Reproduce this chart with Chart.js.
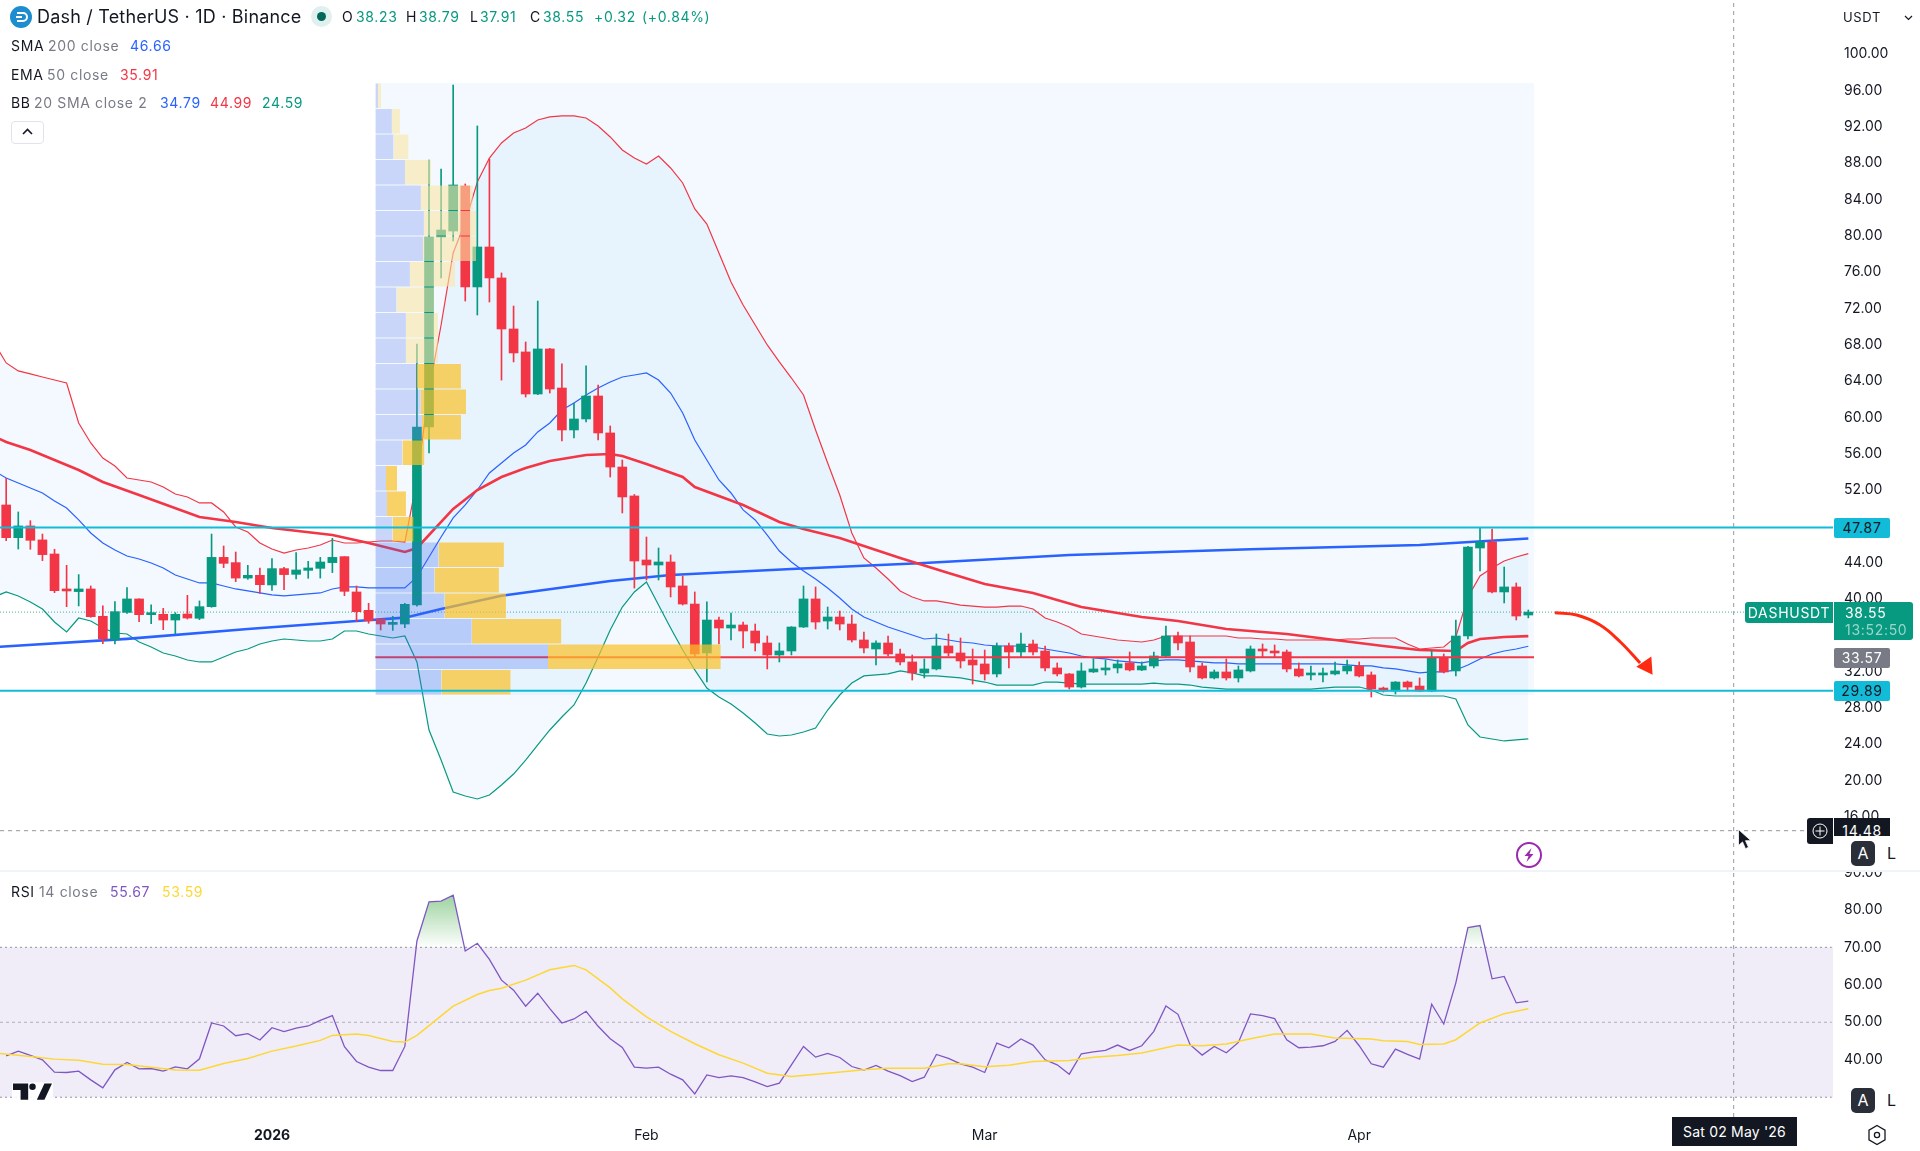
<!DOCTYPE html>
<html><head><meta charset="utf-8">
<style>
html,body{margin:0;padding:0;background:#fff;overflow:hidden}
#wrap{position:relative;width:1920px;height:1151px;font-family:Inter,"Noto Sans",sans-serif;color:#131722}
canvas{position:absolute;left:0;top:0}
.t{position:absolute;white-space:nowrap;line-height:20px;font-size:14px;letter-spacing:.65px}
.g{color:#787b86}.up{color:#089981}.bl{color:#2962ff}.rd{color:#f23645}
.box{position:absolute;text-align:center;font-size:14px;line-height:20px;letter-spacing:.7px;box-sizing:border-box}
.btn{position:absolute;box-sizing:border-box;border-radius:5px;text-align:center;font-size:16px;line-height:25px}
svg{position:absolute;overflow:visible}
</style></head><body>
<div id="wrap">
<canvas id="c" width="1920" height="1151"></canvas>

<svg style="left:10px;top:6px" width="22" height="22" viewBox="0 0 22 22"><circle cx="11" cy="11" r="11" fill="#1c8ed0"/><path d="M7 7h6a4 4 0 0 1 0 8H7M6 11h6" fill="none" stroke="#fff" stroke-width="2"/></svg>
<div class="t" style="left:37px;top:7px;font-size:18px;letter-spacing:.2px">Dash / TetherUS · 1D · Binance</div>
<svg style="left:311px;top:6px" width="21" height="21"><circle cx="10.5" cy="10.5" r="10.5" fill="#dff0ee"/><circle cx="10.5" cy="10.5" r="4.5" fill="#00695c"/></svg>
<div class="t" style="left:342px;top:7px">O</div><div class="t up" style="left:356px;top:7px">38.23</div>
<div class="t" style="left:406px;top:7px">H</div><div class="t up" style="left:419px;top:7px">38.79</div>
<div class="t" style="left:470px;top:7px">L</div><div class="t up" style="left:480px;top:7px">37.91</div>
<div class="t" style="left:530px;top:7px">C</div><div class="t up" style="left:543px;top:7px">38.55</div>
<div class="t up" style="left:594px;top:7px">+0.32</div><div class="t up" style="left:642px;top:7px">(+0.84%)</div>

<div class="t" style="left:11px;top:36px">SMA</div><div class="t g" style="left:48px;top:36px">200 close</div><div class="t bl" style="left:130px;top:36px">46.66</div>
<div class="t" style="left:11px;top:65px">EMA</div><div class="t g" style="left:47px;top:65px">50 close</div><div class="t rd" style="left:120px;top:65px">35.91</div>
<div class="t" style="left:11px;top:93px">BB</div><div class="t g" style="left:34px;top:93px">20 SMA close 2</div><div class="t bl" style="left:160px;top:93px">34.79</div><div class="t rd" style="left:210px;top:93px">44.99</div><div class="t up" style="left:262px;top:93px">24.59</div>
<div style="position:absolute;left:11px;top:121px;width:33px;height:23px;border:1px solid #e0e3eb;border-radius:4px;box-sizing:border-box"></div>
<svg style="left:22px;top:128px" width="11" height="8"><path d="M1 6l4.5-4.5L10 6" fill="none" stroke="#131722" stroke-width="1.6"/></svg>

<div class="t" style="left:1843px;top:7px;font-size:13px">USDT</div>
<svg style="left:1904px;top:15px" width="9" height="6"><path d="M1 1l3.5 3.5L8 1" fill="none" stroke="#131722" stroke-width="1.2"/></svg>

<div class="box" style="left:1834px;top:518px;width:56px;height:20px;background:#12bcd9;border-radius:2px">47.87</div>
<div class="box" style="left:1834px;top:681px;width:56px;height:20px;background:#12bcd9;border-radius:2px">29.89</div>
<div class="box" style="left:1834px;top:648px;width:56px;height:20px;background:#787b86;color:#fff;border-radius:2px">33.57</div>
<div class="box" style="left:1745px;top:602px;width:88px;height:21px;background:#089981;color:#fff;border-radius:3px 0 0 3px;line-height:21px">DASHUSDT</div>
<div class="box" style="left:1834px;top:602px;width:79px;height:38px;background:#089981;color:#fff;border-radius:0 3px 3px 0;text-align:left;padding-left:11px;line-height:17px;padding-top:2px">38.55<br><span style="color:#9bd6cb">13:52:50</span></div>

<div style="position:absolute;left:1834px;top:818px;width:56px;height:18px;background:#131722"></div>
<div class="box" style="left:1834px;top:821px;width:56px;height:15px;color:#fff;line-height:20px;overflow:hidden">14.48</div>
<div style="position:absolute;left:1807px;top:818px;width:26px;height:26px;background:#131722;border-radius:3px 0 0 3px"></div>
<svg style="left:1812px;top:823px" width="16" height="16"><circle cx="8" cy="8" r="7" fill="none" stroke="#fff" stroke-width="1"/><path d="M8 3.500v9M3.500 8h9" stroke="#fff" stroke-width="1"/></svg>

<div class="btn" style="left:1851px;top:841px;width:24px;height:25px;background:#2a2e39;color:#fff">A</div>
<div class="btn" style="left:1880px;top:841px;width:23px;height:25px;background:#fff;color:#131722">L</div>
<div style="position:absolute;left:1833px;top:866px;width:87px;height:4px;background:#fff"></div>
<div style="position:absolute;left:0;top:870px;width:1920px;height:2px;background:#f0f3fa"></div>
<div class="btn" style="left:1851px;top:1088px;width:24px;height:25px;background:#2a2e39;color:#fff">A</div>
<div class="btn" style="left:1880px;top:1088px;width:23px;height:25px;background:#fff;color:#131722">L</div>

<svg style="left:1516px;top:842px" width="26" height="26"><circle cx="13" cy="13" r="12" fill="#fff" stroke="#9c27b0" stroke-width="2"/><path d="M15.500 6L8.500 14h4l-2 6 7-8h-4z" fill="#9c27b0"/></svg>
<svg style="left:1738px;top:829px" width="14" height="22"><path d="M0.500 0.500v16l4-3.600 3 6.800 3-1.400-3-6.600h5.500z" fill="#131722" stroke="#fff" stroke-width=".8"/></svg>

<div class="t" style="left:11px;top:882px">RSI</div><div class="t g" style="left:39px;top:882px">14 close</div><div class="t" style="left:110px;top:882px;color:#7e57c2">55.67</div><div class="t" style="left:162px;top:882px;color:#fdd835">53.59</div>

<svg style="left:13px;top:1082px" width="39" height="19" viewBox="0 6 36 15"><rect x="-1" y="5" width="38" height="17" fill="#fff" opacity=".9"/><path d="M14 6H0v6h7v9h7V6zm15 15h-7l7-15h7l-7 15zm-11-9a3 3 0 1 1 0-6 3 3 0 0 1 0 6z" fill="#131722"/></svg>

<div class="box" style="left:1672px;top:1117px;width:125px;height:29px;background:#131722;color:#fff;line-height:29px;letter-spacing:.2px">Sat 02 May '26</div>
<svg style="left:1867px;top:1124px" width="20" height="22"><path d="M10 1.500l8 4.600v9.800l-8 4.600-8-4.600V6.100z" fill="none" stroke="#131722" stroke-width="1.3"/><circle cx="10" cy="11" r="2.600" fill="none" stroke="#131722" stroke-width="1.3"/></svg>
</div>

<script src="https://cdn.jsdelivr.net/npm/chart.js@4/dist/chart.umd.min.js"></script>
<script>
// Candles: index 0 = 10 Dec 2025, one per day
const open=[50.35,46.75,48.04,46.5,44.95,40.95,40.81,41.1,38.09,35.55,38.52,40,38.27,38.31,37.68,38.34,37.87,39.15,44.58,44,42.3,42.6,41.54,43.34,42.71,43.15,43.37,44,44.66,40.77,38.75,37.79,37.2,37.24,39.33,58.94,79.86,80.52,85.48,74.36,78.76,75.35,69.73,67.2,62.57,67.53,63.23,58.61,59.82,62.35,58.28,54.53,51.34,44.29,43.74,44.07,41.43,39.44,34.05,37.68,36.8,37.13,36.47,35.15,33.83,34.27,36.91,40,37.57,38.01,37.24,35.48,34.49,35.15,33.94,33.06,31.85,32.29,34.82,34.05,33.28,32.84,31.74,34.82,34.16,35.04,34.27,32.4,31.74,30.3,31.96,32.18,32.4,32.95,32.18,32.62,33.72,35.92,35.26,32.62,31.3,31.96,31.3,32.07,34.49,34.27,34.16,32.29,31.63,31.63,31.74,32.07,32.62,31.63,30.19,29.86,30.85,30.41,29.86,33.5,32.07,35.92,45.61,46.27,40.77,41.32,38.23];
const high=[53.28,49.58,48.62,47.15,45.47,43.7,42.68,41.43,39.23,39.7,41.24,40,39.34,38.97,38.49,40.4,39.78,47.15,45.83,45.17,43.7,43.4,44.44,43.48,45.1,44.14,44.58,46.68,44.66,41.43,39.52,37.79,38.09,39.52,68.08,88.34,87.35,96.6,85.7,92.09,88.45,75.9,72.26,68.3,72.81,67.6,65.88,61.58,65.66,63.56,59.05,55.3,51.5,46.82,45.61,44.84,42.53,40.77,39.67,38.01,38.45,37.46,37.24,35.92,35.15,36.95,41.43,41.32,39.11,38.67,38.23,36.36,35.4,35.92,34.49,33.83,33.39,36.14,36.14,35.7,34.49,34.38,35.15,35.15,36.25,35.48,34.82,32.95,31.8,32.95,33.39,33.28,33.28,34.16,33.06,34.16,37.02,36.36,35.92,32.95,32.18,33.39,32.62,34.82,35.04,34.93,34.38,32.95,32.62,32.4,33.06,33.28,33.06,31.96,30.3,30.9,30.96,31.3,34.27,33.94,37.68,45.8,47.87,47.7,43.52,41.76,38.79];
const low=[46.42,45.5,45.47,44.22,40.69,39.15,39.23,37.98,35.08,35.04,38.42,37.5,37.28,36.62,36.18,37.79,37.72,39.08,43.45,41.9,42.16,40.62,40.95,41.02,42.2,42.27,42.3,42.9,40.36,37.5,37.32,36.58,36.54,36.84,39.2,56.07,75.35,79.42,72.81,71.27,72.7,64.1,66.1,62.24,62.5,62.68,57.4,57.73,59.49,57.5,53.43,49.47,41.2,42.09,42.09,40.22,39.33,33.61,30.85,35.04,35.48,34.6,34.27,32.29,33.06,33.83,36.85,36.69,36.69,36.58,35.26,34.05,32.73,33.72,32.73,31.07,31.3,32.18,33.72,32.4,30.63,31.07,31.41,32.4,33.61,33.83,32.07,31.52,30.08,30.19,31.9,31.63,31.85,32.07,32.1,32.4,33.6,34.38,31.96,31.19,31.19,31.07,30.85,31.96,33.61,33.61,31.96,31.41,31.07,30.85,31.63,31.74,31.41,29.2,29.75,29.53,29.86,29.8,29.8,31.85,31.52,35.59,43.08,40.66,39.56,37.68,37.91];
const close=[46.75,48.04,46.46,44.88,40.91,40.88,41.1,38.05,35.59,38.6,40,38.27,38.34,37.68,38.31,37.9,39.15,44.58,43.92,42.3,42.6,41.57,43.34,42.68,43.19,43.41,44.07,44.58,40.84,38.6,37.6,37.24,37.35,39.41,58.94,79.86,80.63,85.59,74.36,78.76,75.35,69.73,67.09,62.57,67.53,63.12,58.61,59.82,62.35,58.28,54.53,51.23,44.18,43.74,44.07,41.32,39.44,33.94,37.68,36.8,37.13,36.47,35.15,33.83,34.27,36.91,40,37.46,38.01,37.24,35.48,34.6,35.15,33.94,33.06,31.85,32.29,34.82,34.05,33.17,32.73,31.74,34.82,34.16,35.04,34.16,32.4,31.74,30.3,32.07,32.29,32.4,32.84,32.18,32.62,33.72,35.92,35.15,32.51,31.3,31.96,31.3,32.18,34.49,34.27,34.05,32.29,31.52,31.74,31.74,32.07,32.62,31.52,30.08,29.86,30.85,30.3,29.86,33.5,31.96,35.92,45.72,46.27,40.77,41.32,38.12,38.55];

// Bollinger bands, index -1 (9 Dec) to 126
const bbUpper=[68.19,65.99,65.11,64.78,64.44,64.11,63.78,59.38,57.18,55.52,54.64,53.32,53.1,52.88,52.33,51.56,51.23,50.57,50.57,49.58,47.93,47.37,46.16,45.5,45.06,45.39,45.61,45.94,46.49,46.16,46.16,46.27,46.38,46.38,46.27,53.1,63.01,70.17,78.1,81.51,85.92,88.56,90.22,91.32,91.87,92.75,93.08,93.19,93.19,92.97,92.09,90.88,89.44,88.56,87.9,88.78,87.46,85.81,82.95,81.29,78.1,74.91,72.37,70.17,67.97,66.1,64.33,62.46,58.61,54.97,51.45,47.26,44.51,43.41,42.2,40.88,40.22,39.78,39.78,39.56,39.33,39.22,39.11,39.11,39.22,39.22,38.89,37.9,37.46,36.91,36.14,35.92,35.7,35.48,35.37,35.26,35.48,35.92,35.92,35.92,35.92,35.92,35.92,35.7,35.7,35.59,35.59,35.48,35.48,35.48,35.48,35.48,35.59,35.59,35.7,35.7,35.7,35.04,34.49,34.6,34.71,35.81,40.22,42.53,43.41,44.18,44.62,44.99];
const bbBasis=[54.09,53.32,52.77,52.22,51.67,50.79,50.02,48.7,47.26,46.16,45.39,44.73,44.4,43.96,43.41,42.64,42.2,41.76,41.76,41.43,41.1,40.88,40.66,40.44,40.33,40.44,40.55,40.66,41.1,41.32,41.32,41.21,41.21,41.21,41.21,42.42,44.62,46.82,48.92,50.35,52,53.87,54.97,56.07,56.96,58.39,59.38,60.81,61.58,62.46,63.23,63.89,64.44,64.66,64.89,64.11,62.68,60.48,57.51,55.3,53.1,51.67,49.8,48.7,47.04,45.28,44.07,43.08,42.2,41.21,40.11,38.89,38.01,37.46,36.91,36.47,36.03,35.59,35.7,35.48,35.26,35.15,34.93,34.82,34.82,34.82,34.71,34.49,34.27,34.05,33.72,33.5,33.39,33.17,33.06,32.95,33.17,33.28,33.28,33.17,33.06,32.95,32.95,32.84,32.84,32.84,32.84,32.84,32.84,32.84,32.84,32.84,32.73,32.62,32.62,32.4,32.29,32.07,31.85,31.96,31.96,32.18,32.73,33.39,33.94,34.27,34.49,34.79];
const bbLower=[40.22,40.77,40.33,39.67,38.89,37.46,36.36,37.9,37.57,36.8,36.25,36.14,35.26,34.71,34.05,33.72,33.28,33.06,33.06,33.61,34.16,34.49,35.04,35.37,35.59,35.48,35.37,35.37,35.59,36.47,36.47,36.14,35.92,35.7,35.92,33.06,25.57,22.26,18.74,18.3,17.97,18.41,19.51,20.72,22.26,23.92,25.57,27,28.32,30.74,33.61,36.58,39.11,40.77,41.87,39.33,36.8,34.38,32.18,30.19,29.2,28.43,27.44,26.34,25.13,24.91,25.02,25.35,25.79,27.77,29.42,30.74,31.52,31.63,31.74,32.07,31.85,31.52,31.52,31.41,31.3,31.07,30.85,30.52,30.52,30.52,30.52,30.85,30.85,30.74,30.63,30.63,30.63,30.63,30.63,30.63,30.74,30.63,30.63,30.52,30.3,30.19,30.08,30.08,30.08,30.08,30.08,30.08,30.08,30.08,30.19,30.3,30.3,30.3,29.97,29.42,29.31,29.31,29.31,29.31,29.31,28.98,26.12,24.8,24.58,24.36,24.47,24.59];

// Moving averages: values read at the listed candle indexes
const emaIndex=[-1,0,2,6,8,11,16,19,22,27,30,33,34,37,39,41,43,45,46,48,50,51,53,56,57,61,64,66,69,71,74,78,81,85,89,94,97,101,106,110,114,117,120,121,122,124,126];
const emaValues=[57.9,57.29,56.41,54.2,52.88,51.45,49.03,48.48,47.82,47.04,46.16,45.17,45.61,49.91,52,53.43,54.42,55.19,55.41,55.85,55.96,55.74,54.86,53.43,52.33,50.35,48.48,47.7,46.71,45.83,44.51,42.86,41.65,40.66,39.11,38.01,37.57,36.69,36.14,35.48,34.82,34.38,34.27,35.15,35.59,35.81,35.91];
const smaIndex=[-1,10,20,29,33,36,41,50,55,65,76,88,103,117,126];
const smaValues=[34.69,35.6,36.69,37.57,37.94,38.89,40.36,41.98,42.64,43.3,43.96,44.84,45.47,45.94,46.66];

// Key levels and fixed-range volume profile
const resistanceLevel=47.87, supportLevel=29.89, pocLevel=33.57, lastPrice=38.55, crossPrice=14.48, crossIndex=143;
const vpFirst=30.56, vpLast=126.47, vpTop=96.82, vpBottom=29.42;
const vpUp=[0.22,1.37,1.51,2.45,3.77,4.02,3.94,2.86,1.75,2.53,2.53,3.44,3.77,3.86,2.24,0.88,0.96,1.42,5.23,4.9,5.73,7.98,14.29,5.46];
const vpDown=[0.25,0.66,1.24,2.15,4.3,4.3,4.39,3.73,3.1,2.65,2.65,3.64,3.73,3.23,1.82,0.91,1.57,1.74,5.41,5.33,5.08,7.42,14.3,5.74];

// Drawn arrow
const arrowIndex=[128.2,130,131.94,133.6,135.25], arrowPrice=[38.49,38.23,37.13,35.29,32.95];

// RSI pane
const rsi=[41.06,42.31,41.15,39.99,36.69,36.6,36.95,34.63,32.49,37.31,39.28,37.58,37.67,36.95,38.11,37.58,40.26,49.81,49.01,46.42,46.96,45.26,48.56,47.49,48.47,49.01,50.53,51.78,43.47,39.54,38.03,37.13,37.13,43.56,71.69,82.14,82.32,83.93,69.01,71.07,66.78,61.24,58.56,54.28,57.76,53.65,49.81,50.88,52.94,48.92,45.62,43.29,38.03,37.76,38.03,36.15,34.63,30.88,35.97,35.26,35.7,35.26,34.1,32.84,33.74,38.65,43.56,40.7,41.69,40.61,38.2,37.22,38.47,36.95,35.79,34.19,35.35,41.42,40.35,38.92,38.03,36.6,44.46,43.2,45.53,43.92,39.99,38.65,36.15,41.6,42.13,42.49,43.92,42.49,43.74,47.58,54.37,52.13,44.01,41.24,43.56,41.87,44.63,52.22,51.78,50.97,45.35,43.2,43.38,43.74,44.9,47.85,43.74,38.92,38.03,42.85,41.42,40.17,54.81,49.55,60.53,75.26,75.8,61.6,62.23,55.17,55.67];
const rsiMaIndex=[-1,2,4,6,8,10,12,14,16,18,20,22,24,26,27,29,30,32,33,34,35,37,39,40,41,43,45,47,48,50,51,53,55,57,59,61,63,65,68,71,73,76,78,79,81,83,85,88,90,92,94,97,99,101,103,105,108,110,113,114,116,117,119,120,122,124,126];
const rsiMaValues=[41.8,40.9,40.17,39.9,38.83,38.74,38.02,37.3,37.22,39,40.35,42.31,43.65,45.17,46.5,46.87,46.5,44.9,44.72,46.5,49.1,54.3,57.4,58.47,59.1,61.24,64,65.17,64,59.19,56.24,51.42,47.58,44.28,41.33,39.1,36.42,35.53,36.42,37.31,37.76,37.76,38.92,38.92,38.11,38.56,39.54,39.81,40.7,41.15,41.78,43.92,43.74,44.19,45.62,46.87,46.87,45.79,45.53,45.08,44.9,44.1,44.19,45.35,49.81,52.3,53.59];
const rsiLevels=[70,50,30];

const priceTicks=[100,96,92,88,84,80,76,72,68,64,60,56,52,48,44,40,36,32,28,24,20,16];
const rsiTicks=[90,80,70,60,50,40];
const xTickIndex=[22,53,81,112], xTickLabels=['2026','Feb','Mar','Apr'];

const XMIN=-0.513, XMAX=151.22, CROSS_END=149.07;
const UP='#089981', DOWN='#f23645';
const ds=[];
const line=(o)=>Object.assign({type:'line',pointRadius:0,borderWidth:1,tension:0,fill:false,yAxisID:'yPrice',xAxisID:'x'},o);
const pts=(xs,ys)=>xs.map((x,i)=>({x,y:ys[i]}));
const span=(a,b,y)=>[{x:a,y},{x:b,y}];
const seq=(n,start)=>Array.from({length:n},(_,i)=>i+start);

// RSI band
ds.push(line({yAxisID:'yRsi',data:span(XMIN,XMAX,70),borderWidth:0,fill:{value:30},backgroundColor:'rgba(126,87,194,0.115)',order:100}));
rsiLevels.forEach(v=>ds.push(line({yAxisID:'yRsi',data:span(XMIN,XMAX-0.1,v),borderColor:v===50?'rgba(120,123,134,0.55)':'rgba(120,123,134,0.8)',borderDash:v===50?[3,3]:[2,3],order:99})));
const grad=document.createElement('canvas').getContext('2d').createLinearGradient(0,895,0,948);
grad.addColorStop(0,'rgba(76,175,80,0.55)');grad.addColorStop(1,'rgba(76,175,80,0)');
ds.push(line({yAxisID:'yRsi',data:pts(seq(rsi.length,0),rsi),borderColor:'#7e57c2',borderWidth:1.3,fill:{target:{value:70},above:grad,below:'rgba(0,0,0,0)'},order:90}));
ds.push(line({yAxisID:'yRsi',data:pts(rsiMaIndex,rsiMaValues),borderColor:'#fdd835',borderWidth:1.5,order:89}));

// Profile background
ds.push(line({data:span(vpFirst,vpLast,vpTop),borderWidth:0,fill:{value:vpBottom},backgroundColor:'rgba(33,150,243,0.055)',order:80}));
// Bollinger
const bx=seq(bbUpper.length,-1);
ds.push(line({data:pts(bx,bbUpper),borderColor:'#f23645',borderWidth:1.2,fill:'+2',backgroundColor:'rgba(33,150,243,0.055)',order:70}));
ds.push(line({data:pts(bx,bbBasis),borderColor:'#2962ff',borderWidth:1.2,order:69}));
ds.push(line({data:pts(bx,bbLower),borderColor:'#089981',borderWidth:1.2,order:68}));
// Last price dotted
ds.push(line({data:span(XMIN,XMAX,lastPrice),borderColor:'rgba(8,153,129,0.75)',borderDash:[1,2],order:67}));
// MAs
ds.push(line({data:pts(smaIndex,smaValues),borderColor:'#2962ff',borderWidth:2.6,order:60}));
ds.push(line({data:pts(emaIndex,emaValues),borderColor:'#f23645',borderWidth:2.6,order:59}));

// Candles
const cx=seq(open.length,0);
const cols=cx.map(i=>close[i]>=open[i]?UP:DOWN);
ds.push({type:'bar',yAxisID:'yPrice',xAxisID:'x',data:cx.map(i=>({x:i,y:[low[i],high[i]]})),backgroundColor:cols,barThickness:1,grouped:false,order:50});
ds.push({type:'bar',yAxisID:'yPrice',xAxisID:'x',data:cx.map(i=>({x:i,y:[open[i],close[i]]})),backgroundColor:cols,barThickness:9,minBarLength:2,grouped:false,order:49});

// POC line
ds.push(line({data:span(vpFirst,vpLast,pocLevel),borderColor:'#f23645',borderWidth:2,order:45}));

// Volume profile rows
const rowH=(vpTop-vpBottom)/vpUp.length;
vpUp.forEach((u,r)=>{
  const hi=vpTop-r*rowH-0.05, lo=hi-rowH+0.1;
  const a=vpFirst+u, b=a+vpDown[r];
  ds.push(line({data:span(vpFirst,a,hi),borderWidth:0,fill:{value:lo},backgroundColor:r>=18?'rgba(61,105,238,0.28)':'rgba(102,134,239,0.3)',order:40}));
  ds.push(line({data:span(a,b,hi),borderWidth:0,fill:{value:lo},backgroundColor:r>=11?'rgba(252,194,40,0.7)':'rgba(250,229,165,0.6)',order:40}));
});

// Horizontal levels
[resistanceLevel,supportLevel].forEach(v=>ds.push(line({data:span(XMIN,XMAX,v),borderColor:'#12bcd9',borderWidth:2,order:30})));
// Arrow
ds.push(line({data:pts(arrowIndex,arrowPrice),borderColor:'#ff2a12',borderWidth:3,tension:0.4,order:25}));
ds.push(line({data:[{x:135.8,y:32.62}],showLine:false,pointStyle:'triangle',pointRadius:10.5,pointRotation:146,pointBackgroundColor:'#ff2a12',pointBorderWidth:0,order:24}));
// Crosshair
ds.push(line({data:span(XMIN,CROSS_END,crossPrice),borderColor:'#9598a1',borderDash:[4,4],order:20}));
ds.push(line({data:[{x:crossIndex,y:10.04},{x:crossIndex,y:105.96}],borderColor:'#9598a1',borderDash:[4,4],order:20}));
ds.push(line({yAxisID:'yRsi',data:[{x:crossIndex,y:24.73},{x:crossIndex,y:90.36}],borderColor:'#9598a1',borderDash:[4,4],order:20}));

const noPad=s=>{s.paddingTop=0;s.paddingBottom=0;s.paddingLeft=0;s.paddingRight=0;};
const tickFont={family:'Inter',size:14};
const canvas=document.getElementById('c');
canvas.getContext('2d').letterSpacing='0.7px';
new Chart(canvas,{
  type:'bar',
  data:{datasets:ds},
  options:{
    responsive:false,animation:false,devicePixelRatio:1,
    layout:{padding:0,autoPadding:false},
    plugins:{legend:{display:false},tooltip:{enabled:false}},
    events:[],
    scales:{
      x:{type:'linear',position:'bottom',offset:false,min:XMIN,max:XMAX,grid:{display:false,offset:false,drawTicks:false},border:{display:false},
        afterBuildTicks:s=>{s.ticks=xTickIndex.map(v=>({value:v}));},
        afterFit:s=>{s.height=34;noPad(s);},
        ticks:{autoSkip:false,maxRotation:0,padding:10,color:'#131722',
          font:c=>({family:'Inter',size:14,weight:c.index===0?'700':'400'}),
          callback:v=>xTickLabels[xTickIndex.indexOf(v)]}},
      yPrice:{type:'linear',position:'right',stack:'panes',stackWeight:871,min:10.04,max:105.96,
        grid:{display:false,drawTicks:false},border:{display:false},
        afterBuildTicks:s=>{s.ticks=priceTicks.map(v=>({value:v}));},
        afterFit:s=>{s.width=87;noPad(s);},
        ticks:{padding:11,crossAlign:'near',color:'#131722',font:tickFont,autoSkip:false,callback:v=>Number(v).toFixed(2)}},
      yRsi:{type:'linear',position:'right',stack:'panes',stackWeight:246,min:24.73,max:90.36,
        grid:{display:false,drawTicks:false},border:{display:false},
        afterBuildTicks:s=>{s.ticks=rsiTicks.map(v=>({value:v}));},
        afterFit:s=>{s.width=87;noPad(s);},
        ticks:{padding:11,crossAlign:'near',color:'#131722',font:tickFont,autoSkip:false,callback:v=>Number(v).toFixed(2)}}
    }
  }
});
</script>
</body></html>
